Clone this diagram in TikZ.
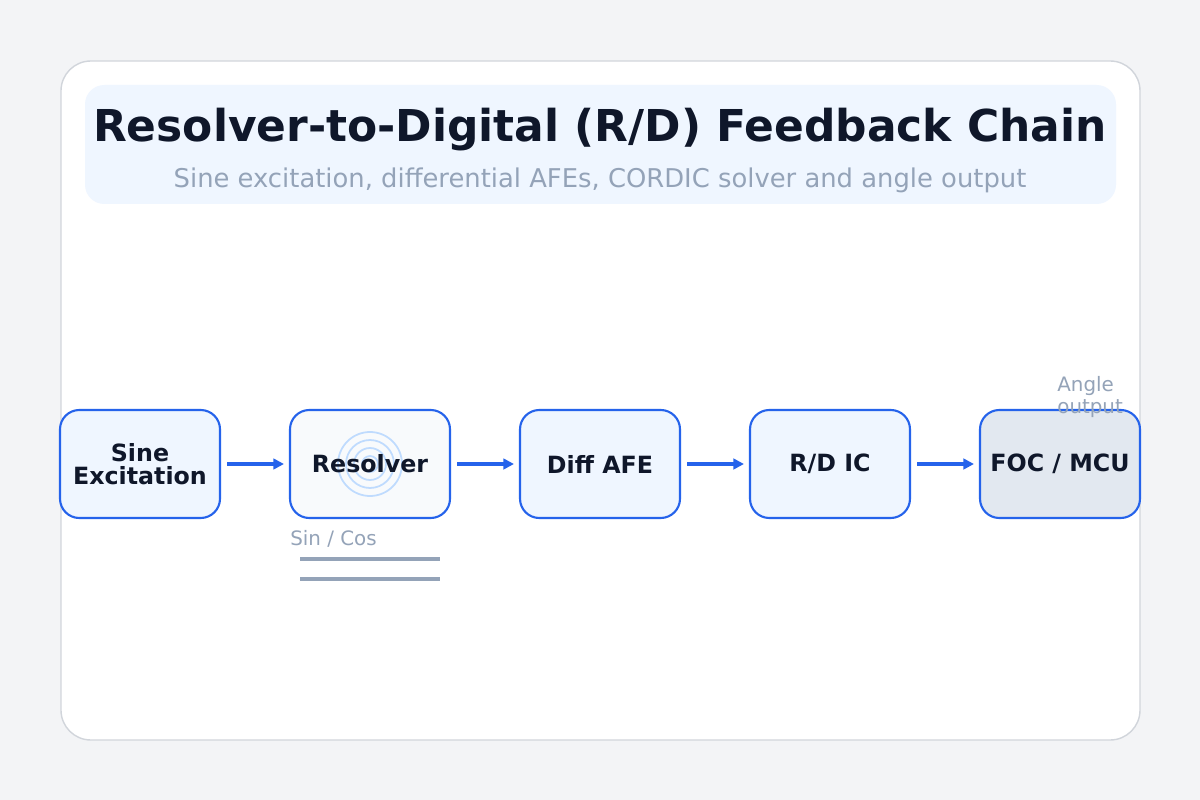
\documentclass[tikz,border=0pt]{standalone}
\usepackage{fontspec}
\setmainfont{DejaVu Sans}
\usepackage{xcolor}
\definecolor{pagebg}{HTML}{F3F4F6}
\definecolor{cardline}{HTML}{D1D5DB}
\definecolor{headbg}{HTML}{EFF6FF}
\definecolor{inkdark}{HTML}{0F172A}
\definecolor{slate}{HTML}{94A3B8}
\definecolor{royal}{HTML}{2563EB}
\definecolor{ringblue}{HTML}{BFDBFE}
\definecolor{paleslate}{HTML}{F8FAFC}
\definecolor{mcufill}{HTML}{E2E8F0}
\usetikzlibrary{arrows.meta, positioning}

\tikzset{
  block/.style={draw=royal, line width=1.2pt, rounded corners=11pt, fill=headbg,
    minimum width=160*0.02cm, minimum height=108*0.02cm, align=center,
    text=inkdark, font=\fontsize{13.5}{15}\selectfont\bfseries, inner sep=0pt},
  flow/.style={draw=royal, line width=1.8pt, -{Triangle[length=6pt,width=6pt]},
    shorten <=6*0.02cm, shorten >=5*0.02cm},
  note/.style={text=slate, font=\fontsize{11.3}{13}\selectfont, anchor=west, inner sep=0pt}
}

\begin{document}
\begin{tikzpicture}[x=0.02cm, y=-0.02cm]
  % --- background and card ---
  \fill[pagebg] (0,0) rectangle (1200,800);
  \useasboundingbox (0,0) rectangle (1200,800);
  \draw[cardline, fill=white, line width=0.8pt, rounded corners=17pt] (61,61) rectangle (1140,740);

  % --- header ---
  \fill[headbg, rounded corners=11pt] (85,85) rectangle (1116,204);
  \node[text=inkdark, font=\fontsize{25}{28}\selectfont\bfseries] (title) at (600,130)
    {Resolver-to-Digital (R/D) Feedback Chain};
  \node[text=slate, font=\fontsize{14.7}{17}\selectfont] (subtitle) at (600,180)
    {Sine excitation, differential AFEs, CORDIC solver and angle output};

  % --- chain of blocks ---
  \node[block] (exc) at (140,464) {Sine\\[-2pt]Excitation};
  \node[block, fill=paleslate] (res) at (370,464) {};
  \foreach \r in {8,16,24,32}
    \draw[ringblue, line width=1pt] (res.center) circle (\r);
  \node[text=inkdark, font=\fontsize{13.5}{15}\selectfont\bfseries] (reslabel) at (res.center) {Resolver};
  \node[block] (afe) at (600,464) {Diff AFE};
  \node[block] (rdc) at (830,464) {R/D IC};
  \node[block, fill=mcufill] (mcu) at (1060,464) {FOC / MCU};

  % --- connectors ---
  \draw[flow] (exc) -- (res);
  \draw[flow] (res) -- (afe);
  \draw[flow] (afe) -- (rdc);
  \draw[flow] (rdc) -- (mcu);

  % --- signal notes ---
  \node[note] (sincos) at (290,539) {Sin / Cos};
  \coordinate (l1a) at (300,559); \coordinate (l1b) at (440,559);
  \coordinate (l2a) at (300,579); \coordinate (l2b) at (440,579);
  \draw[slate, line width=1.8pt] (l1a) -- (l1b);
  \draw[slate, line width=1.8pt] (l2a) -- (l2b);
  \node[note, align=left] (angle) at (1057,397) {Angle\\[-1pt]output};
\end{tikzpicture}
\end{document}
